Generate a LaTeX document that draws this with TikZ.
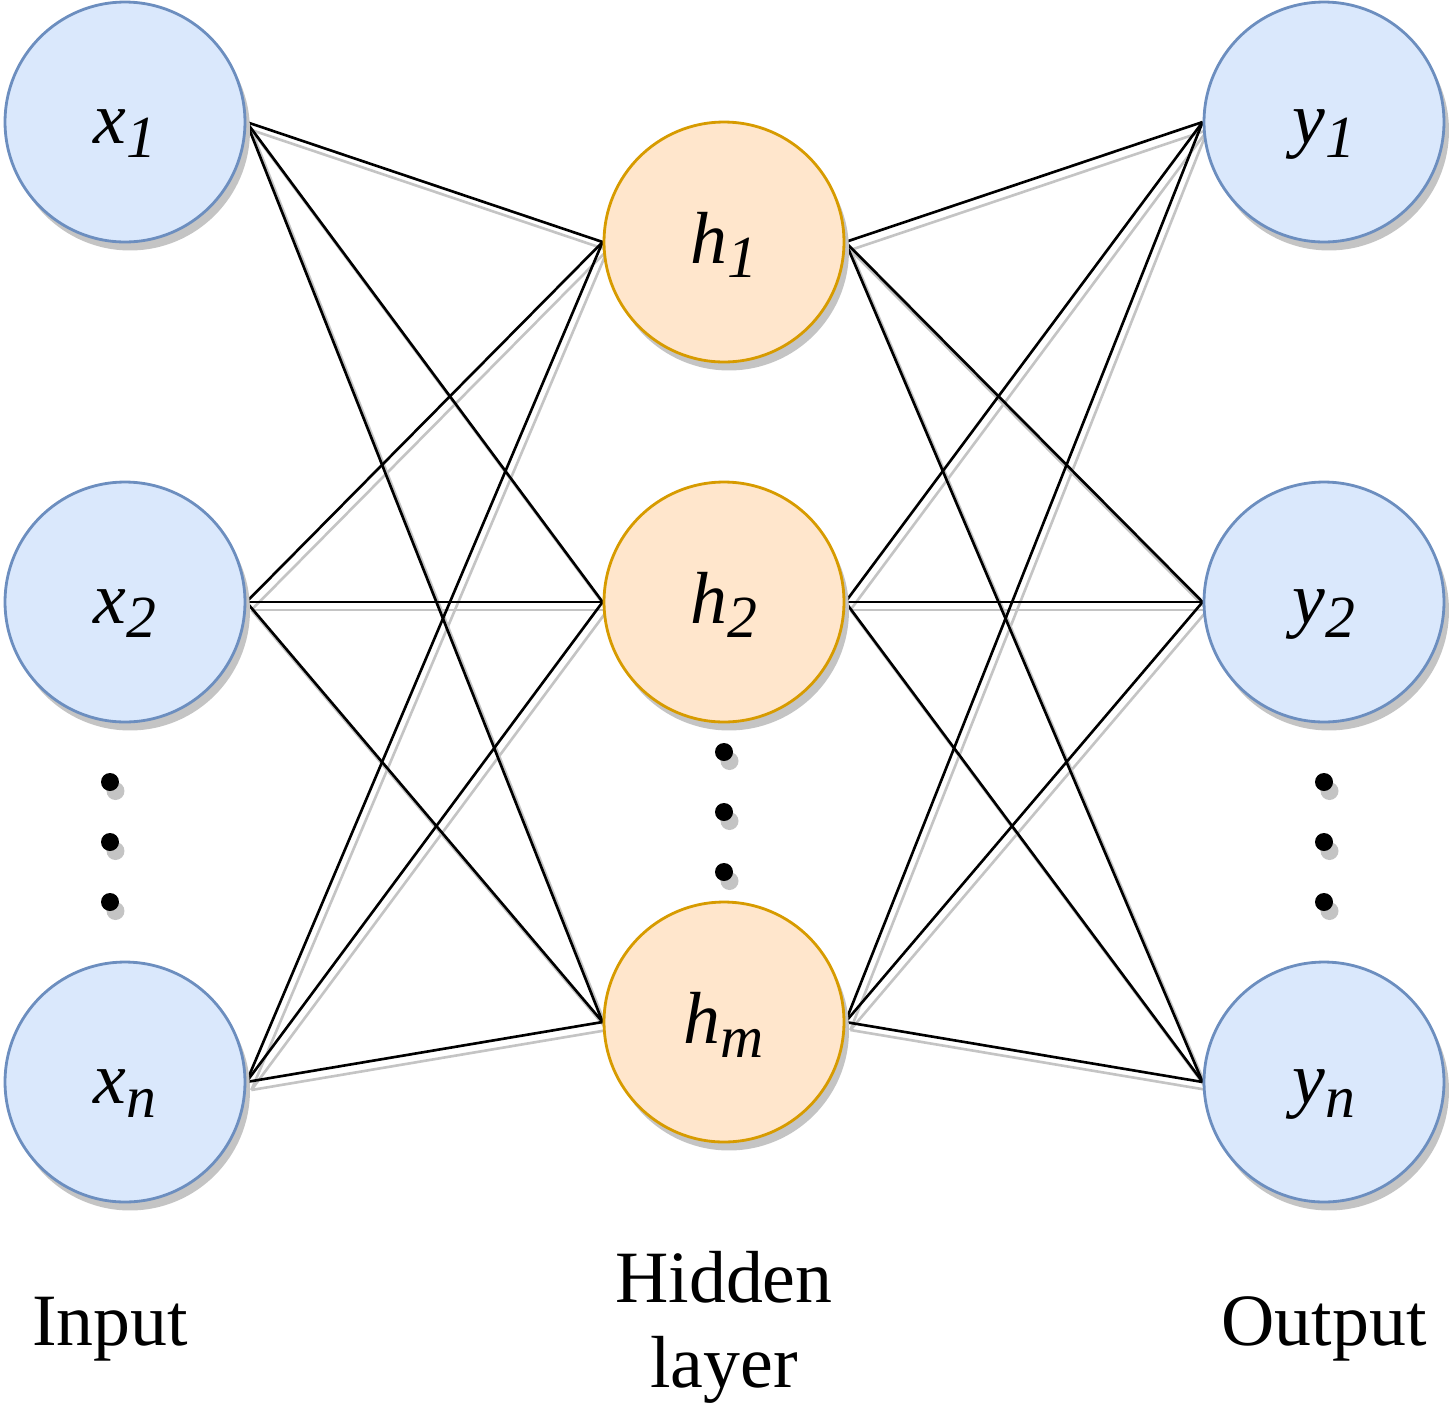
\documentclass[tikz,border=0pt]{standalone}
\usepackage{fontspec}
\setmainfont{Liberation Serif}
\usetikzlibrary{shadows,backgrounds}
\definecolor{bluefill}{HTML}{DAE8FC}
\definecolor{bluedraw}{HTML}{6C8EBF}
\definecolor{orafill}{HTML}{FFE6CC}
\definecolor{oradraw}{HTML}{D79B00}
\definecolor{shadowgray}{HTML}{C4C4C4}
\newcommand\nnlab[2]{{\fontsize{42}{48}\selectfont\itshape #1}\raisebox{-8pt}{\fontsize{34}{40}\selectfont\itshape #2}}
\tikzset{
  neuron/.style={circle, minimum size=4.8cm, inner sep=0pt, line width=1.6pt,
    text height=36pt, text depth=12pt,
    drop shadow={shadow xshift=0.1cm, shadow yshift=-0.17cm, fill=shadowgray, opacity=1}},
  ioneuron/.style={neuron, fill=bluefill, draw=bluedraw},
  hidneuron/.style={neuron, fill=orafill, draw=oradraw},
  dotmark/.style={circle, fill=black, minimum size=0.36cm, inner sep=0pt,
    drop shadow={shadow xshift=0.11cm, shadow yshift=-0.18cm, fill=shadowgray, opacity=1}},
  link/.style={draw=black, line width=1.5pt},
  linkshadow/.style={draw=shadowgray, line width=1.5pt, transform canvas={shift={(5,8)}}},
  caption/.style={font=\fontsize{42}{48}\selectfont, inner sep=0pt, align=center},
}
\begin{document}
\begin{tikzpicture}[x=0.02cm, y=-0.02cm]
\useasboundingbox (0,0) rectangle (1454,1414);
% nodes
\node[ioneuron] (x1) at (125,122) {\nnlab{x}{1}};
\node[ioneuron] (x2) at (125,602) {\nnlab{x}{2}};
\node[ioneuron] (xn) at (125,1082) {\nnlab{x}{n}};
\node[hidneuron] (h1) at (724,242) {\nnlab{h}{1}};
\node[hidneuron] (h2) at (724,602) {\nnlab{h}{2}};
\node[hidneuron] (hm) at (724,1022) {\nnlab{h}{m}};
\node[ioneuron] (y1) at (1324,122) {\nnlab{y}{1}};
\node[ioneuron] (y2) at (1324,602) {\nnlab{y}{2}};
\node[ioneuron] (yn) at (1324,1082) {\nnlab{y}{n}};
% dots
\node[dotmark] (dx1) at (110,782) {};
\node[dotmark] (dx2) at (110,842) {};
\node[dotmark] (dx3) at (110,902) {};
\node[dotmark] (dh1) at (724,752) {};
\node[dotmark] (dh2) at (724,812) {};
\node[dotmark] (dh3) at (724,872) {};
\node[dotmark] (dy1) at (1324,782) {};
\node[dotmark] (dy2) at (1324,842) {};
\node[dotmark] (dy3) at (1324,902) {};
% captions
\node[caption, anchor=base] (cin) at (110,1345) {Input};
\node[caption, anchor=base] (chid) at (724,1387) {Hidden\\layer};
\node[caption, anchor=base] (cout) at (1324,1345) {Output};
% connections
\begin{pgfonlayer}{background}
\foreach \a in {x1,x2,xn}{
  \foreach \b in {h1,h2,hm}{
    \draw[linkshadow] (\a.east) -- (\b.west);
  }
}
\foreach \a in {h1,h2,hm}{
  \foreach \b in {y1,y2,yn}{
    \draw[linkshadow] (\a.east) -- (\b.west);
  }
}
\foreach \a in {x1,x2,xn}{
  \foreach \b in {h1,h2,hm}{
    \draw[link] (\a.east) -- (\b.west);
  }
}
\foreach \a in {h1,h2,hm}{
  \foreach \b in {y1,y2,yn}{
    \draw[link] (\a.east) -- (\b.west);
  }
}
\end{pgfonlayer}
\end{tikzpicture}
\end{document}
